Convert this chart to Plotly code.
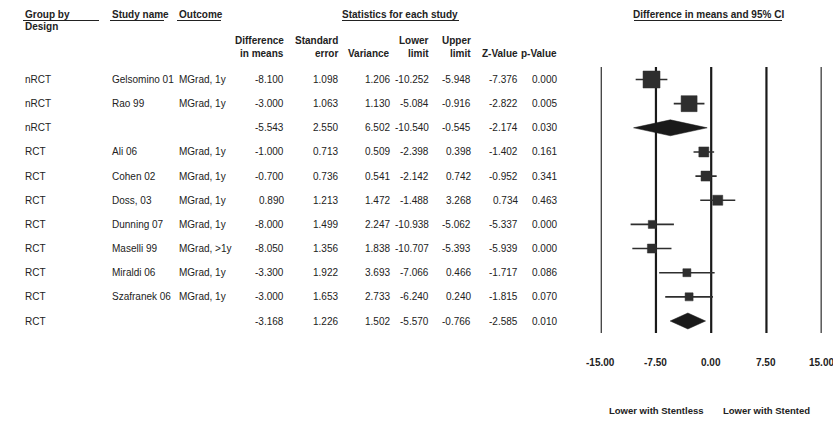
import plotly.graph_objects as go

W, H = 833, 421

# ---- data ----
design = ["nRCT", "nRCT", "nRCT", "RCT", "RCT", "RCT", "RCT", "RCT", "RCT", "RCT", "RCT"]
study = ["Gelsomino 01", "Rao 99", "", "Ali 06", "Cohen 02", "Doss, 03", "Dunning 07",
         "Maselli 99", "Miraldi 06", "Szafranek 06", ""]
outcome = ["MGrad, 1y", "MGrad, 1y", "", "MGrad, 1y", "MGrad, 1y", "MGrad, 1y", "MGrad, 1y",
           "MGrad, >1y", "MGrad, 1y", "MGrad, 1y", ""]
diff = [-8.100, -3.000, -5.543, -1.000, -0.700, 0.890, -8.000, -8.050, -3.300, -3.000, -3.168]
se = [1.098, 1.063, 2.550, 0.713, 0.736, 1.213, 1.499, 1.356, 1.922, 1.653, 1.226]
variance = [1.206, 1.130, 6.502, 0.509, 0.541, 1.472, 2.247, 1.838, 3.693, 2.733, 1.502]
lower = [-10.252, -5.084, -10.540, -2.398, -2.142, -1.488, -10.938, -10.707, -7.066, -6.240, -5.570]
upper = [-5.948, -0.916, -0.545, 0.398, 0.742, 3.268, -5.062, -5.393, 0.466, 0.240, -0.766]
zval = [-7.376, -2.822, -2.174, -1.402, -0.952, 0.734, -5.337, -5.939, -1.717, -1.815, -2.585]
pval = [0.000, 0.005, 0.030, 0.161, 0.341, 0.463, 0.000, 0.000, 0.086, 0.070, 0.010]
is_summary = [False, False, True, False, False, False, False, False, False, False, True]
ticks = [-15.0, -7.5, 0.0, 7.5, 15.0]

# ---- layout helpers (pixel -> paper) ----
def px(x):
    return x / W

def py(y):
    return 1 - y / H

ROW0, ROWH = 79.5, 24.15           # first row centre and row pitch in pixels
y_top = -ROW0 / ROWH
y_bot = (H - ROW0) / ROWH

INK = "#222222"
MARK = "#2e2e2e"
FONT = "Liberation Sans, Arial, sans-serif"

fig = go.Figure()

# confidence-interval whiskers for individual studies
wx, wy = [], []
for i in range(len(diff)):
    if not is_summary[i]:
        wx += [lower[i], upper[i], None]
        wy += [i, i, None]
fig.add_trace(go.Scatter(x=wx, y=wy, mode="lines",
                         line=dict(color=MARK, width=1.6), hoverinfo="skip"))

# study squares (size follows study weight)
box_px = [17, 16, None, 10, 10, 10, 8, 9, 8, 8, None]
sx = [diff[i] for i in range(len(diff)) if not is_summary[i]]
sy = [i for i in range(len(diff)) if not is_summary[i]]
ss = [box_px[i] for i in range(len(diff)) if not is_summary[i]]
fig.add_trace(go.Scatter(x=sx, y=sy, mode="markers",
                         marker=dict(symbol="square", size=ss, color=MARK, opacity=1,
                                     line=dict(width=0.5, color=MARK))))

# subgroup summary diamonds
half_h = 0.33
for i in range(len(diff)):
    if is_summary[i]:
        fig.add_trace(go.Scatter(
            x=[lower[i], diff[i], upper[i], diff[i], lower[i]],
            y=[i, i - half_h, i, i + half_h, i],
            mode="lines", fill="toself", fillcolor="#1a1a1a",
            line=dict(color="#1a1a1a", width=0.5), hoverinfo="skip"))

# vertical grid lines at tick positions
shapes = []
for t in ticks:
    shapes.append(dict(type="line", xref="x", yref="paper", x0=t, x1=t,
                       y0=py(67), y1=py(333),
                       line=dict(color="#1a1a1a", width=2.2), layer="below"))

# header underlines
for x0, x1 in [(23, 99), (110, 164), (177, 221), (342, 459), (634, 782)]:
    shapes.append(dict(type="line", xref="paper", yref="paper",
                       x0=px(x0), x1=px(x1), y0=py(20.5), y1=py(20.5),
                       line=dict(color=INK, width=1)))

ann = []

def text(x, y, s, anchor="left", bold=False, size=10, yref="paper"):
    ann.append(dict(x=x, y=y, xref="paper", yref=yref, text=f"<b>{s}</b>" if bold else s,
                    showarrow=False, xanchor=anchor, yanchor="middle",
                    font=dict(family=FONT, size=size, color=INK)))

# headers
text(px(23), py(14), "Group by", bold=True)
text(px(23), py(27), "Design", bold=True)
text(px(110), py(14), "Study name", bold=True)
text(px(177), py(14), "Outcome", bold=True)
text(px(400), py(14), "Statistics for each study", anchor="center", bold=True)
text(px(708), py(14), "Difference in means and 95% CI", anchor="center", bold=True)

col_right = [286, 340, 392, 431, 473, 520, 559]
heads = [("Difference", "in means"), ("Standard", "error"), ("", "Variance"),
         ("Lower", "limit"), ("Upper", "limit"), ("", "Z-Value"), ("", "p-Value")]
for xr, (h1, h2) in zip(col_right, heads):
    if h1:
        text(px(xr), py(41), h1, anchor="right", bold=True)
    text(px(xr), py(54), h2, anchor="right", bold=True)

# table rows
cols = [diff, se, variance, lower, upper, zval, pval]
for i in range(len(diff)):
    text(px(23), i, design[i], yref="y")
    if study[i]:
        text(px(110), i, study[i], yref="y")
    if outcome[i]:
        text(px(177), i, outcome[i], yref="y")
    for xr, col in zip(col_right, cols):
        text(px(xr), i, f"{col[i]:.3f}", anchor="right", yref="y")

# axis tick labels
for t in ticks:
    ann.append(dict(x=t, y=py(362), xref="x", yref="paper", text=f"<b>{t:.2f}</b>",
                    showarrow=False, xanchor="center", yanchor="middle",
                    font=dict(family=FONT, size=10, color=INK)))

text(px(656), py(410), "Lower with Stentless", anchor="center", bold=True, size=9.5)
text(px(766), py(410), "Lower with Stented", anchor="center", bold=True, size=9.5)

fig.update_layout(
    width=W, height=H,
    margin=dict(l=0, r=0, t=0, b=0),
    paper_bgcolor="white", plot_bgcolor="white",
    showlegend=False,
    xaxis=dict(domain=[px(600.7), px(821.7)], range=[-15, 15], visible=False,
               fixedrange=True),
    yaxis=dict(domain=[0, 1], range=[y_bot, y_top], visible=False, fixedrange=True),
    shapes=shapes, annotations=ann,
)

fig.write_html("out.html")
